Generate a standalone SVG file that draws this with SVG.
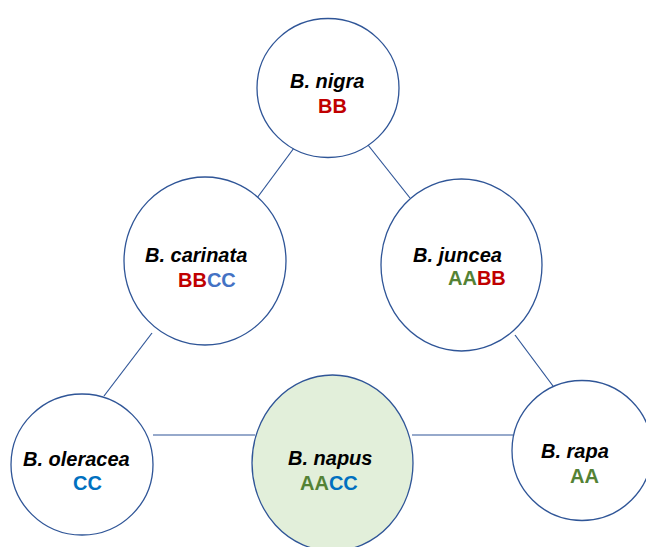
<svg xmlns="http://www.w3.org/2000/svg" width="646" height="547" viewBox="0 0 646 547">
<style>
.node{fill:#ffffff;stroke:#2f5597;stroke-width:1.3}
.hl{fill:#e2efda}
.edge{stroke:#2f5597;stroke-width:1.2;fill:none}
.name{font-family:"Liberation Sans",Arial,sans-serif;font-size:20px;font-weight:bold;font-style:italic;fill:#000}
.gen{font-family:"Liberation Sans",Arial,sans-serif;font-size:20px;font-weight:bold}
.r{fill:#c00000}.g{fill:#548235}.b{fill:#0070c0}.lb{fill:#4472c4}
</style>
<rect width="646" height="547" fill="#fff"/>
<g id="connectors">
<line class="edge" x1="294" y1="148" x2="257" y2="198"/>
<line class="edge" x1="368" y1="145" x2="410" y2="198"/>
<line class="edge" x1="152" y1="333" x2="104" y2="396"/>
<line class="edge" x1="515" y1="335" x2="553" y2="386"/>
<line class="edge" x1="153" y1="435" x2="255" y2="435"/>
<line class="edge" x1="412" y1="435" x2="513" y2="435"/>
</g>
<g id="nigra">
<ellipse class="node" cx="328" cy="88" rx="71" ry="69.5"/>
<text class="name" x="290" y="88">B. nigra</text>
<text class="gen r" x="318" y="113">BB</text>
</g>
<g id="carinata">
<ellipse class="node" cx="205" cy="261" rx="81" ry="84"/>
<text class="name" x="145" y="262">B. carinata</text>
<text class="gen" x="178" y="287"><tspan class="r">BB</tspan><tspan class="lb">CC</tspan></text>
</g>
<g id="juncea">
<ellipse class="node" cx="461.5" cy="265" rx="80.5" ry="86"/>
<text class="name" x="413" y="262">B. juncea</text>
<text class="gen" x="448" y="285"><tspan class="g">AA</tspan><tspan class="r">BB</tspan></text>
</g>
<g id="oleracea">
<ellipse class="node" cx="82" cy="464.5" rx="71" ry="70.5"/>
<text class="name" x="23" y="466">B. oleracea</text>
<text class="gen b" x="73" y="490">CC</text>
</g>
<g id="napus">
<ellipse class="node hl" cx="332.5" cy="463" rx="80.5" ry="88"/>
<text class="name" x="288" y="465">B. napus</text>
<text class="gen" x="300" y="490"><tspan class="g">AA</tspan><tspan class="b">CC</tspan></text>
</g>
<g id="rapa">
<ellipse class="node" cx="582" cy="450.5" rx="70" ry="70"/>
<text class="name" x="541" y="458">B. rapa</text>
<text class="gen g" x="570" y="483">AA</text>
</g>
</svg>
